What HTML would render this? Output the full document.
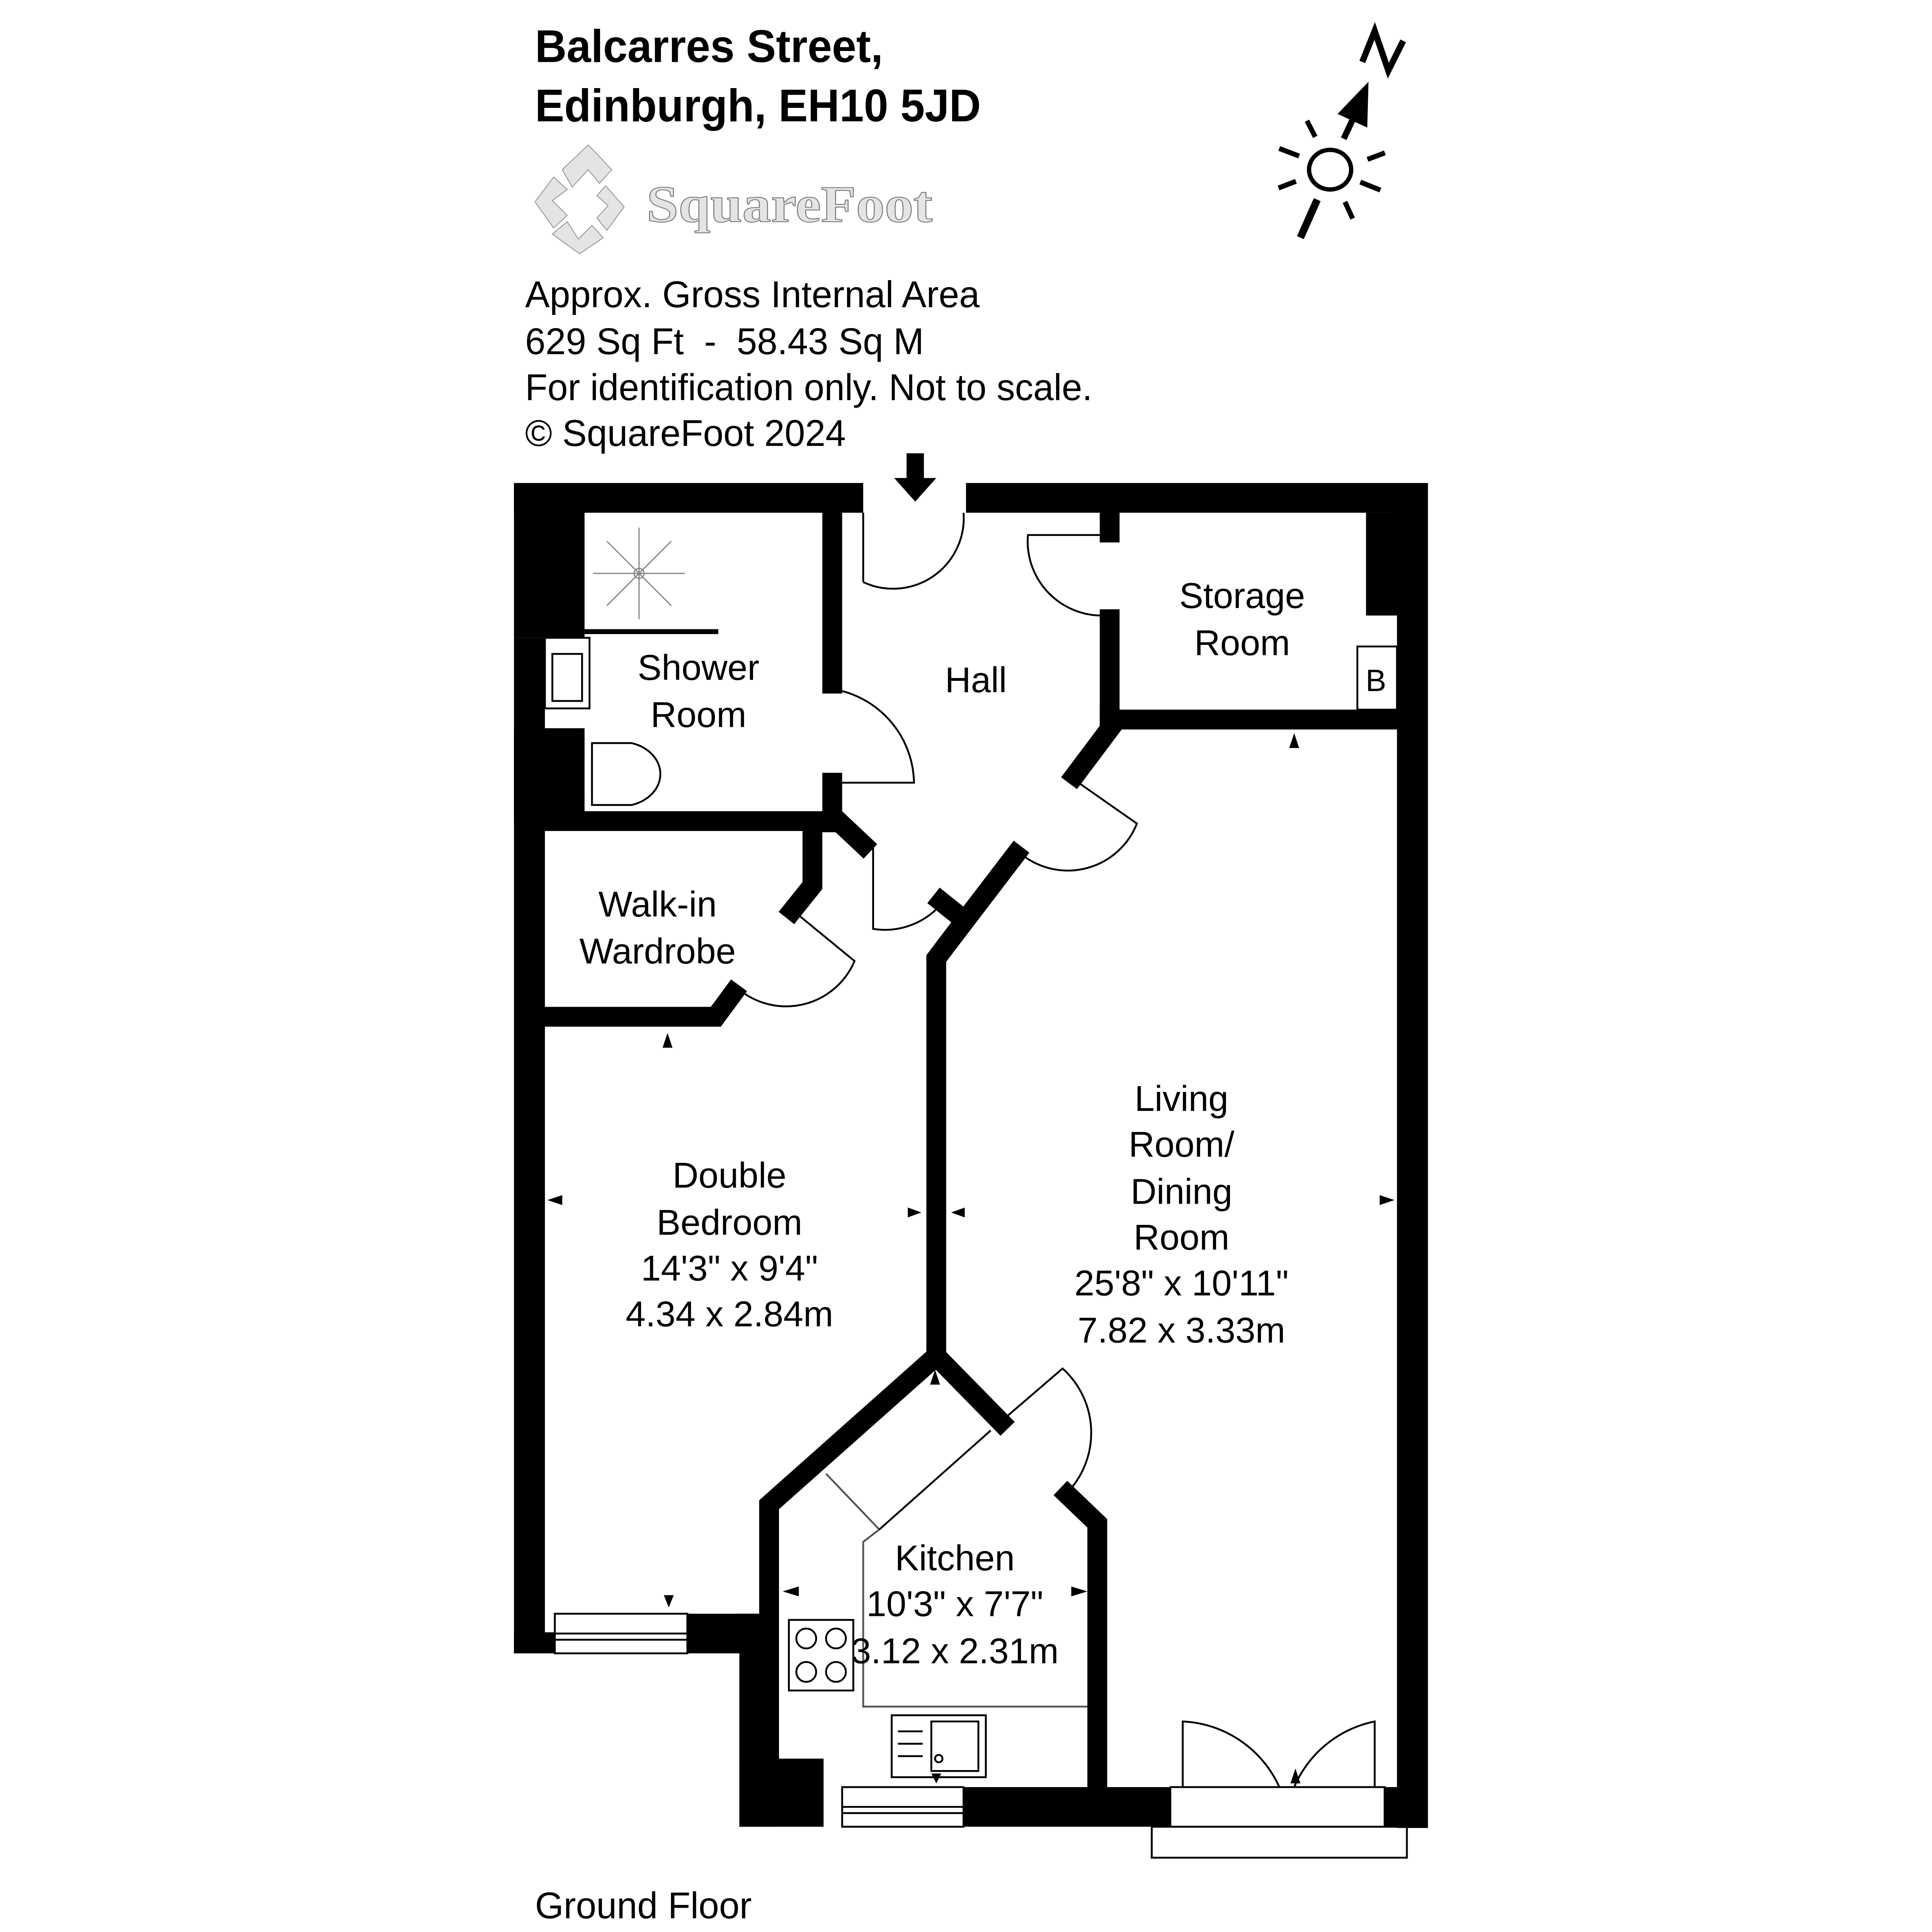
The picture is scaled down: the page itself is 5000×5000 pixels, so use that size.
<!DOCTYPE html>
<html><head><meta charset="utf-8"><style>
html,body{margin:0;padding:0;background:#fff;}
svg{display:block;}
text{font-family:"Liberation Sans",sans-serif;fill:#000;}
</style></head><body>
<svg width="5000" height="5000" viewBox="0 0 1560 1560" xmlns="http://www.w3.org/2000/svg">
<rect width="1560" height="1560" fill="#fff"/>
<!-- Title -->
<text x="432" y="50" font-size="37" font-weight="bold" textLength="281" lengthAdjust="spacingAndGlyphs">Balcarres Street,</text>
<text x="432" y="98" font-size="37" font-weight="bold" textLength="360" lengthAdjust="spacingAndGlyphs">Edinburgh, EH10 5JD</text>
<!-- logo -->
<g fill="#e4e4e4" stroke="#888" stroke-width="0.6">
<path d="M454 137 L475 117 L494 137 L484 148 L475 137 L462 151 Z"/>
<path d="M447 143 L458 153 L446 162 L458 174 L447 184 L432 163 Z"/>
<path d="M489 150 L504 167 L490 186 L482 176 L491 166 L482 158 Z"/>
<path d="M446 189 L458 179 L467 193 L478 182 L487 192 L468 205 Z"/>
</g>
<text x="522" y="179" font-size="42" font-weight="bold" textLength="231" lengthAdjust="spacingAndGlyphs" style="font-family:'Liberation Serif',serif;fill:#e4e4e4;stroke:#777;stroke-width:0.7">SquareFoot</text>
<!-- info -->
<text x="424" y="248" font-size="30" textLength="367" lengthAdjust="spacingAndGlyphs">Approx. Gross Internal Area</text>
<text x="424" y="286" font-size="30" textLength="322" lengthAdjust="spacingAndGlyphs" xml:space="preserve">629 Sq Ft  -  58.43 Sq M</text>
<text x="424" y="323" font-size="30" textLength="458" lengthAdjust="spacingAndGlyphs">For identification only. Not to scale.</text>
<text x="424" y="360" font-size="30" textLength="259" lengthAdjust="spacingAndGlyphs">© SquareFoot 2024</text>
<!-- compass -->
<g stroke="#000" stroke-width="4" fill="none">
<ellipse cx="1074" cy="137" rx="17" ry="16" stroke-width="3.5"/>
<line x1="1063.6" y1="161.2" x2="1050" y2="191.9" stroke-width="6"/>
<line x1="1055.3" y1="97.5" x2="1062" y2="110.5"/>
<line x1="1032.9" y1="119.9" x2="1049" y2="126"/>
<line x1="1032.4" y1="151.8" x2="1046.4" y2="146.4"/>
<line x1="1104.2" y1="128.7" x2="1118.2" y2="123.4"/>
<line x1="1098.4" y1="147" x2="1114.6" y2="153.5"/>
<line x1="1086" y1="163" x2="1092.2" y2="176.5"/>
<polyline points="1100,50 1110,25 1121,57 1133,33" stroke-width="5" stroke-linejoin="miter"/>
<line x1="1085" y1="112" x2="1092" y2="97" stroke-width="5"/>
</g>
<path d="M1105 66 L1080 92 L1104 103 Z" fill="#000"/>
<!-- entrance arrow -->
<path d="M732 366 H746 V386 H756 L739 405 L722 386 H732 Z" fill="#000"/>

<!-- walls -->
<g fill="#000">
<rect x="415" y="390" width="282" height="24"/>
<rect x="780" y="390" width="373" height="24"/>
<rect x="415" y="390" width="57" height="125"/>
<rect x="415" y="515" width="25" height="820"/>
<rect x="415" y="588" width="57" height="75"/>
<rect x="1128" y="390" width="25" height="1086"/>
<rect x="1103" y="414" width="50" height="83"/>
<rect x="415" y="1318" width="33" height="17"/>
<rect x="555" y="1303" width="58" height="32"/>
<rect x="597" y="1303" width="32" height="172"/>
<rect x="597" y="1420" width="68" height="55"/>
<rect x="778" y="1443" width="167" height="32"/>
<rect x="1118" y="1443" width="35" height="32"/>
</g>
<g stroke="#000" stroke-width="16" fill="none" stroke-linecap="square" stroke-linejoin="miter">
<line x1="672" y1="414" x2="672" y2="552"/>
<line x1="672" y1="632" x2="672" y2="664"/>
<line x1="440" y1="663" x2="672" y2="663"/>
<line x1="680" y1="666" x2="697" y2="682"/>
<polyline points="656,672 656,715 640,735"/>
<polyline points="440,821 578,821 592,802"/>
<line x1="896" y1="414" x2="896" y2="430"/>
<line x1="896" y1="500" x2="896" y2="578"/>
<line x1="896" y1="581" x2="1128" y2="581"/>
<line x1="895" y1="590" x2="868" y2="626"/>
<polyline points="820,690 765,762 756,774 756,1095"/>
<line x1="760" y1="728" x2="775" y2="740"/>
<polyline points="621,1422 621,1215 756,1095 808,1148"/>
<polyline points="862,1207 886,1230 886,1443"/>
</g>
<!-- doors -->
<g stroke="#000" stroke-width="1.5" fill="none">
<path d="M697 470 V414 M697 470 A57 57 0 0 0 778 414"/>
<path d="M888 432 H830 A60 60 0 0 0 888 497"/>
<path d="M680 558 A78 78 0 0 1 738 632 H680"/>
<path d="M868 630 L918 665 A60 60 0 0 1 825 690"/>
<path d="M705 682 V750 A60 60 0 0 0 760 730"/>
<path d="M640 735 L690 776 A60 60 0 0 1 598 800"/>
<path d="M808 1148 L858 1105 A70 70 0 0 1 862 1205"/>
<path d="M955 1443 V1390 A90 90 0 0 1 1033 1443 M1110 1443 V1390 A90 90 0 0 0 1045 1443"/>
<!-- windows -->
<rect x="448" y="1303" width="107" height="32"/><line x1="448" y1="1319" x2="555" y2="1319"/><line x1="448" y1="1324" x2="555" y2="1324"/>
<rect x="680" y="1443" width="98" height="32"/><line x1="680" y1="1459" x2="778" y2="1459"/><line x1="680" y1="1464" x2="778" y2="1464"/>
<rect x="945" y="1443" width="173" height="32"/><rect x="930" y="1475" width="206" height="25"/>
<!-- fixtures -->
<line x1="472" y1="510" x2="580" y2="510" stroke-width="4"/>
<rect x="440" y="515" width="36" height="57"/><rect x="446" y="528" width="24" height="38"/>
<path d="M478 600 H510 A32 26 0 0 1 510 650 H478 Z"/>
<path d="M478 610 V640"/>
<rect x="637" y="1308" width="52" height="57"/>
<circle cx="651" cy="1323" r="8"/><circle cx="675" cy="1323" r="8"/><circle cx="651" cy="1350" r="8"/><circle cx="675" cy="1350" r="8"/>
<rect x="720" y="1385" width="76" height="50"/><rect x="752" y="1390" width="38" height="40"/><circle cx="758" cy="1420" r="3"/>
<line x1="725" y1="1398" x2="745" y2="1398"/><line x1="725" y1="1408" x2="745" y2="1408"/><line x1="725" y1="1418" x2="745" y2="1418"/>
<polyline points="667,1190 710,1235 697,1245 697,1378 878,1378" stroke="#555"/>
<line x1="710" y1="1235" x2="800" y2="1155"/>
<rect x="1096" y="522" width="32" height="51"/>
</g>
<!-- shower rose -->
<g stroke="#888" stroke-width="1">
<circle cx="516" cy="463" r="4" fill="none"/>
<line x1="516" y1="426" x2="516" y2="500"/><line x1="479" y1="463" x2="553" y2="463"/>
<line x1="490" y1="437" x2="542" y2="489"/><line x1="490" y1="489" x2="542" y2="437"/>
</g>
<!-- dimension markers (tips toward walls) -->
<g fill="#000">
<path d="M1041 604 L1049 604 L1045 592 Z"/>
<path d="M535 846 L543 846 L539 834 Z"/>
<path d="M536 1288 L544 1288 L540 1298 Z"/>
<path d="M752 1432 L760 1432 L756 1440 Z"/>
<path d="M751 1118 L759 1118 L755 1106 Z"/>
<path d="M454 965 L454 973 L442 969 Z"/>
<path d="M733 975 L733 983 L744 979 Z"/><path d="M779 975 L779 983 L768 979 Z"/>
<path d="M1114 965 L1114 973 L1126 969 Z"/>
<path d="M645 1281 L645 1289 L632 1285 Z"/><path d="M865 1281 L865 1289 L878 1285 Z"/>
<path d="M1042 1440 L1050 1440 L1046 1428 Z"/>
</g>
<!-- room labels -->
<g font-size="29" text-anchor="middle">
<text x="1003" y="491">Storage</text><text x="1003" y="529">Room</text>
<text x="1111" y="558" font-size="25">B</text>
<text x="564" y="549">Shower</text><text x="564" y="587">Room</text>
<text x="788" y="559">Hall</text>
<text x="531" y="740">Walk-in</text><text x="531" y="778">Wardrobe</text>
<text x="589" y="959">Double</text><text x="589" y="997">Bedroom</text>
<text x="589" y="1034">14'3" x 9'4"</text><text x="589" y="1071">4.34 x 2.84m</text>
<text x="954" y="897">Living</text><text x="954" y="934">Room/</text><text x="954" y="972">Dining</text><text x="954" y="1009">Room</text>
<text x="954" y="1046">25'8" x 10'11"</text><text x="954" y="1084">7.82 x 3.33m</text>
<text x="771" y="1268">Kitchen</text><text x="771" y="1305">10'3" x 7'7"</text><text x="771" y="1343">3.12 x 2.31m</text>
</g>
<text x="432" y="1549" font-size="30" textLength="175" lengthAdjust="spacingAndGlyphs">Ground Floor</text>
</svg>
</body></html>
